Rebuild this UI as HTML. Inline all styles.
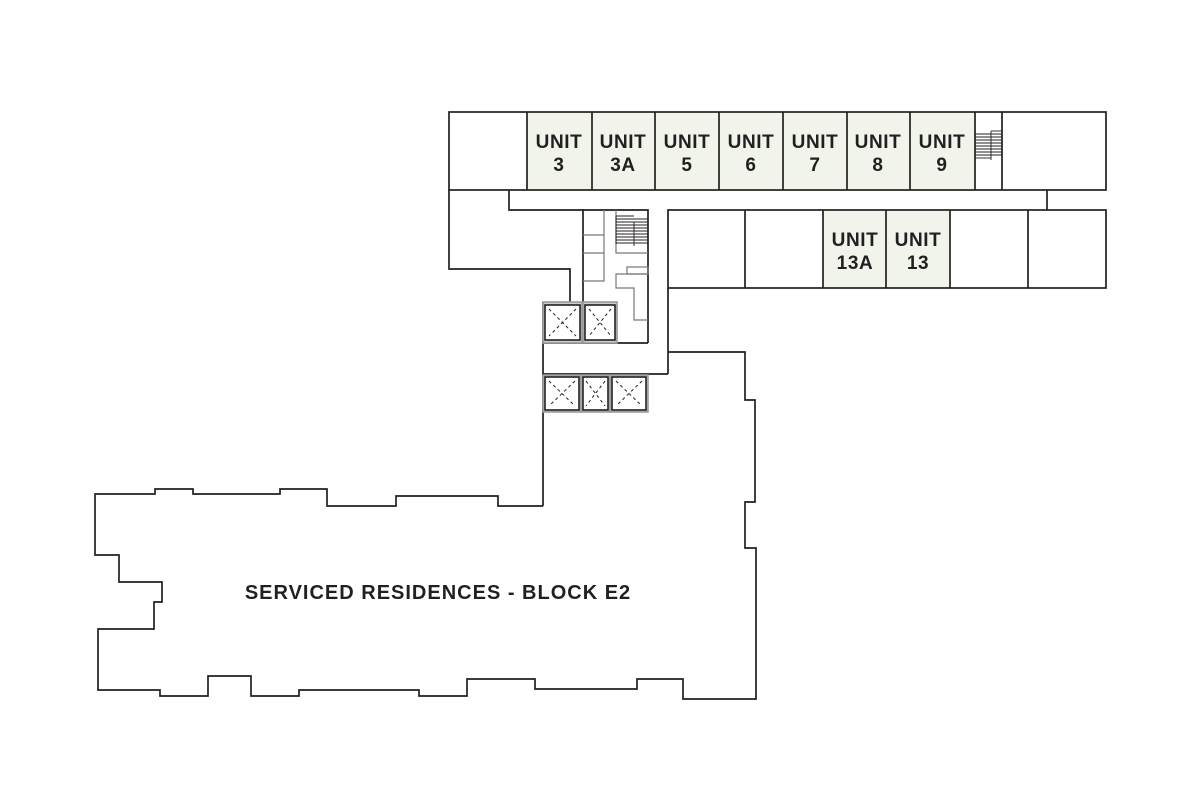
<!DOCTYPE html>
<html><head><meta charset="utf-8"><style>
html,body{margin:0;padding:0;background:#fff;}
svg{display:block;}
text{font-family:"Liberation Sans",sans-serif;font-weight:bold;fill:#231f20;}
</style></head><body>
<svg width="1200" height="811" viewBox="0 0 1200 811" xmlns="http://www.w3.org/2000/svg">
<g fill="none" stroke="#231f20" stroke-width="1.7">
<rect x="527" y="112" width="448" height="78" fill="#f0f4eb" stroke="none"/>
<rect x="449" y="112" width="657" height="78"/>
<line x1="527" y1="112" x2="527" y2="190"/>
<line x1="592" y1="112" x2="592" y2="190"/>
<line x1="655" y1="112" x2="655" y2="190"/>
<line x1="719" y1="112" x2="719" y2="190"/>
<line x1="783" y1="112" x2="783" y2="190"/>
<line x1="847" y1="112" x2="847" y2="190"/>
<line x1="910" y1="112" x2="910" y2="190"/>
<line x1="975" y1="112" x2="975" y2="190"/>
<line x1="1002" y1="112" x2="1002" y2="190"/>
<polyline points="449,190 449,269 570,269 570,302"/>
<polyline points="509,190 509,210 583,210 583,302"/>
<polyline points="583,210 648,210 648,343"/>
<polyline points="1047,190 1047,210"/>
<rect x="823" y="210" width="127" height="78" fill="#f0f4eb" stroke="none"/>
<rect x="668" y="210" width="438" height="78"/>
<line x1="745" y1="210" x2="745" y2="288"/>
<line x1="823" y1="210" x2="823" y2="288"/>
<line x1="886" y1="210" x2="886" y2="288"/>
<line x1="950" y1="210" x2="950" y2="288"/>
<line x1="1028" y1="210" x2="1028" y2="288"/>
<line x1="668" y1="288" x2="668" y2="374"/>
<line x1="543" y1="343" x2="648" y2="343"/>
<line x1="543" y1="374" x2="668" y2="374"/>
<line x1="543" y1="302" x2="543" y2="506"/>
<polyline points="543,506 498,506 498,496 396,496 396,506 327,506 327,489 280,489 280,494 193,494 193,489 155,489 155,494 95,494 95,555 119,555 119,582 162,582 162,602 154,602 154,629 98,629 98,690 160,690 160,696 208,696 208,676 251,676 251,696 299,696 299,690 419,690 419,696 467,696 467,679 535,679 535,689 637,689 637,679 683,679 683,699 756,699 756,548 745,548 745,502 755,502 755,400 745,400 745,352 668,352"/>
</g>
<g fill="none" stroke="#777" stroke-width="1.2">
<line x1="583" y1="235" x2="604" y2="235"/>
<line x1="583" y1="253" x2="604" y2="253"/>
<polyline points="604,210 604,281 583,281"/>
<polyline points="616,210 616,253 648,253"/>
<rect x="627" y="267" width="21" height="7"/>
<polyline points="648,274 616,274 616,288 634,288 634,320 648,320"/>
</g>
<g stroke="#231f20" stroke-width="0.9">
<line x1="616" y1="216" x2="616" y2="244"/>
<line x1="634" y1="222" x2="634" y2="246"/>
<line x1="616" y1="216" x2="634" y2="216"/>
<line x1="616" y1="219" x2="648" y2="219"/><line x1="616" y1="222" x2="648" y2="222"/><line x1="616" y1="225" x2="648" y2="225"/><line x1="616" y1="228" x2="648" y2="228"/><line x1="616" y1="231" x2="648" y2="231"/><line x1="616" y1="234" x2="648" y2="234"/><line x1="616" y1="237" x2="648" y2="237"/><line x1="616" y1="240" x2="648" y2="240"/><line x1="616" y1="243" x2="648" y2="243"/>
<line x1="991" y1="131" x2="1002" y2="131"/>
<line x1="975" y1="134" x2="1002" y2="134"/><line x1="975" y1="137" x2="1002" y2="137"/><line x1="975" y1="140" x2="1002" y2="140"/><line x1="975" y1="143" x2="1002" y2="143"/><line x1="975" y1="146" x2="1002" y2="146"/><line x1="975" y1="149" x2="1002" y2="149"/><line x1="975" y1="152" x2="1002" y2="152"/><line x1="975" y1="155" x2="1002" y2="155"/><line x1="975" y1="158" x2="991" y2="158"/>
<line x1="991" y1="131" x2="991" y2="160"/>
</g>
<g fill="#fff" stroke="#231f20" stroke-width="1.6">
<rect x="543" y="302" width="39" height="41" fill="#ccc" stroke="#999"/>
<rect x="583" y="302" width="34" height="41" fill="#ccc" stroke="#999"/>
<rect x="545" y="305" width="35" height="35"/>
<rect x="585" y="305" width="30" height="35"/>
<rect x="543" y="375" width="38" height="37" fill="#ccc" stroke="#999"/>
<rect x="581" y="375" width="29" height="37" fill="#ccc" stroke="#999"/>
<rect x="610" y="375" width="38" height="37" fill="#ccc" stroke="#999"/>
<rect x="545" y="377" width="34" height="33"/>
<rect x="583" y="377" width="25" height="33"/>
<rect x="612" y="377" width="34" height="33"/>
</g>
<g stroke="#231f20" stroke-width="1" stroke-dasharray="3,3">
<line x1="549" y1="309" x2="576" y2="336"/><line x1="576" y1="309" x2="549" y2="336"/>
<line x1="589" y1="309" x2="611" y2="336"/><line x1="611" y1="309" x2="589" y2="336"/>
<line x1="549" y1="381" x2="575" y2="406"/><line x1="575" y1="381" x2="549" y2="406"/>
<line x1="586" y1="381" x2="605" y2="406"/><line x1="605" y1="381" x2="586" y2="406"/>
<line x1="616" y1="381" x2="642" y2="406"/><line x1="642" y1="381" x2="616" y2="406"/>
</g>
<g font-size="19" text-anchor="middle" letter-spacing="0.6">
<text x="559" y="148">UNIT</text><text x="559" y="171">3</text>
<text x="623" y="148">UNIT</text><text x="623" y="171">3A</text>
<text x="687" y="148">UNIT</text><text x="687" y="171">5</text>
<text x="751" y="148">UNIT</text><text x="751" y="171">6</text>
<text x="815" y="148">UNIT</text><text x="815" y="171">7</text>
<text x="878" y="148">UNIT</text><text x="878" y="171">8</text>
<text x="942" y="148">UNIT</text><text x="942" y="171">9</text>
<text x="855" y="246">UNIT</text><text x="855" y="269">13A</text>
<text x="918" y="246">UNIT</text><text x="918" y="269">13</text>
</g>
<text x="438" y="599" font-size="20" text-anchor="middle" letter-spacing="1">SERVICED RESIDENCES - BLOCK E2</text>
</svg>
</body></html>
